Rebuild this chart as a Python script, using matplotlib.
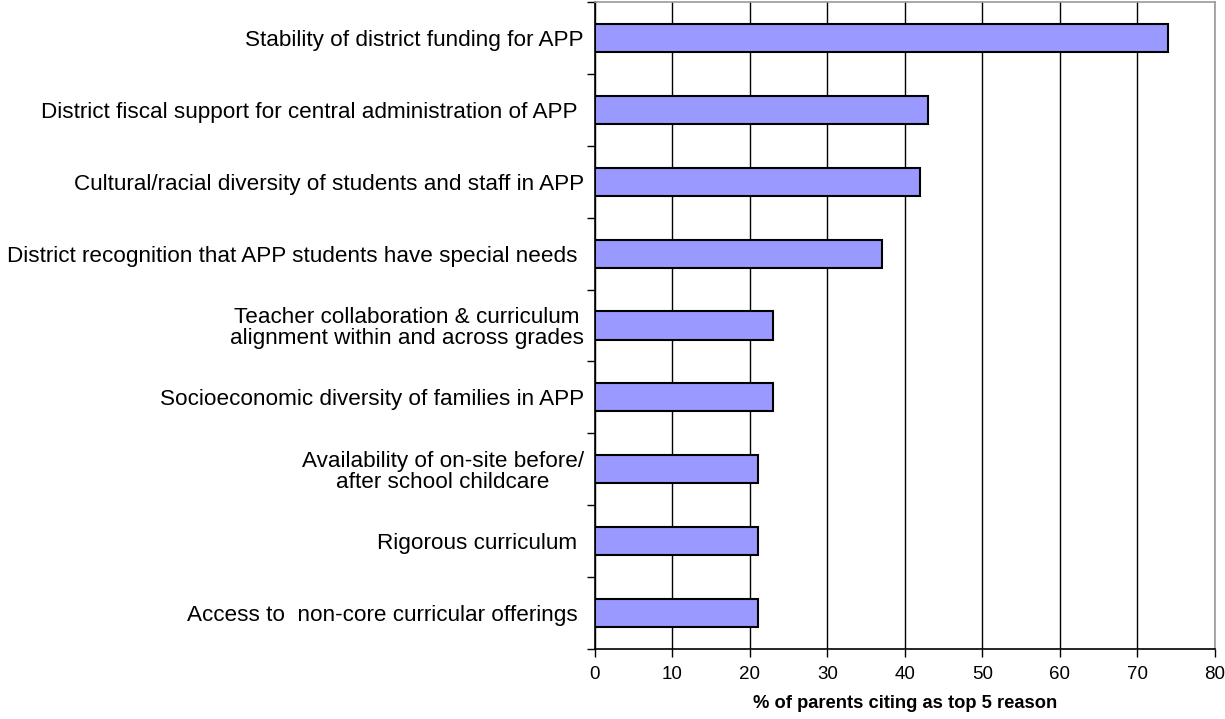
import matplotlib
matplotlib.use("Agg")
import matplotlib.pyplot as plt
import numpy as np

plt.rcParams['font.family'] = ['Liberation Sans', 'DejaVu Sans']

# reasons, top to bottom as shown
reasons = [
    "Stability of district funding for APP",
    "District fiscal support for central administration of APP ",
    "Cultural/racial diversity of students and staff in APP",
    "District recognition that APP students have special needs ",
    "Teacher collaboration & curriculum\nalignment within and across grades",
    "Socioeconomic diversity of families in APP",
    "Availability of on-site before/\nafter school childcare",
    "Rigorous curriculum ",
    "Access to  non-core curricular offerings ",
]
percent = [74, 43, 42, 37, 23, 23, 21, 21, 21]
xticks = [0, 10, 20, 30, 40, 50, 60, 70, 80]

fig = plt.figure(figsize=(12.25, 7.19), dpi=100)
ax = fig.add_axes([0.4857, 0.0974, 0.5061, 0.8998])

y = np.arange(len(reasons))
ax.barh(y, percent, height=0.39, color="#9999ff", edgecolor="black", linewidth=1.5, zorder=3)

ax.set_xlim(0, 80)
ax.set_ylim(len(reasons) - 0.5, -0.5)
ax.set_xticks(xticks)
ax.set_xticklabels([str(t) for t in xticks], fontsize=13.5)
ax.xaxis.grid(True, color="black", linewidth=1, zorder=0)

# category labels at centers, tick marks at boundaries
ax.set_yticks(y)
ax.set_yticklabels(reasons, fontsize=16.2, multialignment="center", linespacing=1.0)
ax.tick_params(axis="y", length=0, pad=8)
ax.set_yticks(np.arange(-0.5, len(reasons), 1), minor=True)
ax.tick_params(axis="y", which="minor", length=6, width=1, direction="out")
ax.tick_params(axis="x", length=6, width=1, direction="out", pad=6)

for s in ["left", "bottom"]:
    ax.spines[s].set_color("black")
    ax.spines[s].set_linewidth(1.2)
for s in ["top", "right"]:
    ax.spines[s].set_color("#999999")
    ax.spines[s].set_linewidth(1.2)

ax.set_xlabel("% of parents citing as top 5 reason", fontsize=13.2, fontweight="bold", labelpad=9)

fig.savefig("out.png", dpi=100)
